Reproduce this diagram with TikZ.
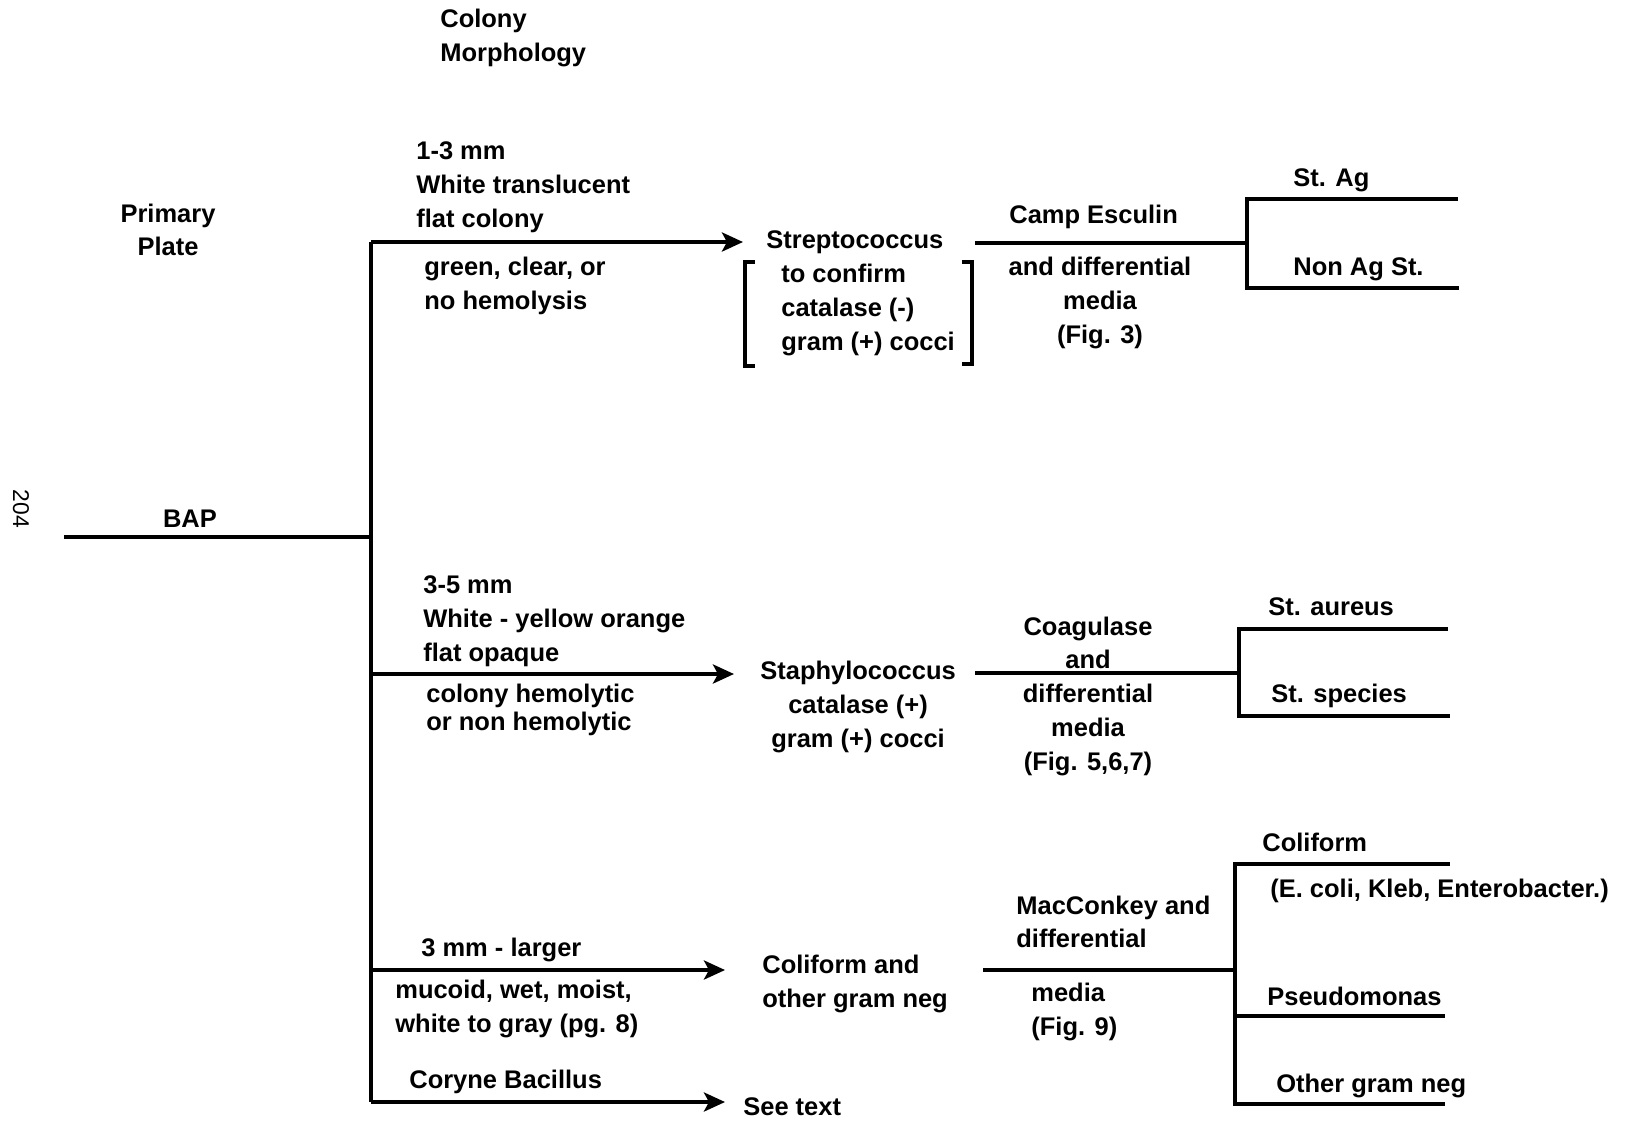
\documentclass[tikz,border=0pt]{standalone}
\usepackage{fontspec}
\setmainfont{Liberation Sans}
\usetikzlibrary{arrows.meta,positioning}
\tikzset{
mylabel/.style={
  font=\bfseries\fontsize{14.5}{19.2}\selectfont,
  inner sep=0pt,
  align=left,
  }
}
\tikzset{
myline/.style={
  line width=2.6pt,
  }
}
\tikzset{
myarrow/.style={
  line width=2.6pt,
  -{Stealth[length=4.2mm,width=3.8mm,inset=1mm]}
  }
}

\begin{document}
\begin{tikzpicture}[x=0.2mm,y=-0.2mm]
    \useasboundingbox (0,0) rectangle (1630,1121);

    % headings
    \node[mylabel, anchor=west] (col_morph) at (440,38) {Colony\\Morphology};
    \node[mylabel, align=center] (prim_plate) at (168,230) {Primary\\Plate};
    \node[font=\fontsize{13}{15}\selectfont, rotate=-90, inner sep=0pt] (page_no) at (21,509) {204};

    % primary plate
    \node[mylabel] (bap) at (190,519) {BAP};
    \coordinate (bap_s) at (64,537);
    \coordinate (root) at (371,537);
    \coordinate (top) at (371,242);
    \coordinate (mid) at (371,674);
    \coordinate (low) at (371,970);
    \coordinate (bot) at (371,1102);
    \draw[myline] (bap_s) -- (root);
    \draw[myline] (top) -- (bot);

    % streptococcus part
    \node[mylabel, anchor=west] (strep_size) at (416,187) {1-3 mm\\White translucent\\flat colony};
    \node[mylabel, anchor=west] (strep_hem) at (424,286) {green, clear, or\\no hemolysis};
    \node[mylabel, anchor=west] (strep) at (766,242) {Streptococcus};
    \node[mylabel, anchor=west] (strep_conf) at (781,310) {to confirm\\catalase (-)\\gram (+) cocci};
    \draw[myline] (755,262) -- (745,262) -- (745,366) -- (755,366);
    \draw[myline] (962,262) -- (972,262) -- (972,364) -- (962,364);
    \node[mylabel, anchor=west] (camp) at (1009,217) {Camp Esculin};
    \node[mylabel, align=center] (camp_media) at (1100,303) {and differential\\media\\(Fig. 3)};
    \node[mylabel, anchor=west] (st_ag) at (1293,180) {St. Ag};
    \node[mylabel, anchor=west] (non_ag) at (1293,269) {Non Ag St.};
    \coordinate (camp_s) at (975,243);
    \coordinate (camp_j) at (1247,243);
    \coordinate (st_ag_e) at (1458,199);
    \coordinate (non_ag_e) at (1459,288);

    % staphylococcus part
    \node[mylabel, anchor=west] (staph_size) at (423,621) {3-5 mm\\White - yellow orange\\flat opaque};
    \node[mylabel, anchor=west, font=\bfseries\fontsize{14.5}{15.5}\selectfont] (staph_hem) at (426,710) {colony hemolytic\\or non hemolytic};
    \node[mylabel, align=center, anchor=west] (staph) at (760,707) {Staphylococcus\\catalase (+)\\gram (+) cocci};
    \node[mylabel, align=center] (coag) at (1088,696) {Coagulase\\and\\differential\\media\\(Fig. 5,6,7)};
    \node[mylabel, anchor=west] (aureus) at (1268,607) {St. aureus};
    \node[mylabel, anchor=west] (species) at (1271,696) {St. species};
    \coordinate (coag_s) at (975,673);
    \coordinate (coag_j) at (1239,673);
    \coordinate (aureus_e) at (1448,629);
    \coordinate (species_e) at (1450,716);

    % coliform part
    \node[mylabel, anchor=west] (coli_size) at (421,950) {3 mm - larger};
    \node[mylabel, anchor=west] (coli_look) at (395,1009) {mucoid, wet, moist,\\white to gray (pg. 8)};
    \node[mylabel, anchor=west] (coli) at (762,984) {Coliform and\\other gram neg};
    \node[mylabel, anchor=west] (mac) at (1016,922) {MacConkey and\\differential};
    \node[mylabel, anchor=west] (mac_media) at (1031,1012) {media\\(Fig. 9)};
    \node[mylabel, anchor=west] (colif) at (1262,842) {Coliform};
    \node[mylabel, anchor=west] (colif_ex) at (1270,891) {(E. coli, Kleb, Enterobacter.)};
    \node[mylabel, anchor=west] (pseudo) at (1267,996) {Pseudomonas};
    \node[mylabel, anchor=west] (other_neg) at (1276,1086) {Other gram neg};
    \coordinate (mac_s) at (983,970);
    \coordinate (mac_j) at (1235,970);
    \coordinate (colif_e) at (1450,864);
    \coordinate (pseudo_e) at (1445,1016);
    \coordinate (other_e) at (1445,1104);

    % coryne part
    \node[mylabel, anchor=west] (coryne) at (409,1082) {Coryne Bacillus};
    \node[mylabel, anchor=west] (see_text) at (743,1107) {See text};

    % colony edges
    \draw[myarrow, shorten >=4.6mm] (top) -- (strep.west);
    \draw[myarrow, shorten >=5.2mm] (mid) -- (mid -| staph.west);
    \draw[myarrow, shorten >=7.4mm] (low) -- (low -| coli.west);
    \draw[myarrow, shorten >=3.6mm] (bot) -- (bot -| see_text.west);

    % media edges
    \draw[myline] (camp_s) -- (camp_j);
    \draw[myline] (st_ag_e) -| (non_ag_e -| camp_j) -- (non_ag_e);
    \draw[myline] (coag_s) -- (coag_j);
    \draw[myline] (aureus_e) -| (species_e -| coag_j) -- (species_e);
    \draw[myline] (mac_s) -- (mac_j);
    \draw[myline] (colif_e) -| (other_e -| mac_j) -- (other_e);
    \draw[myline] (pseudo_e -| mac_j) -- (pseudo_e);
  \end{tikzpicture}
\end{document}
